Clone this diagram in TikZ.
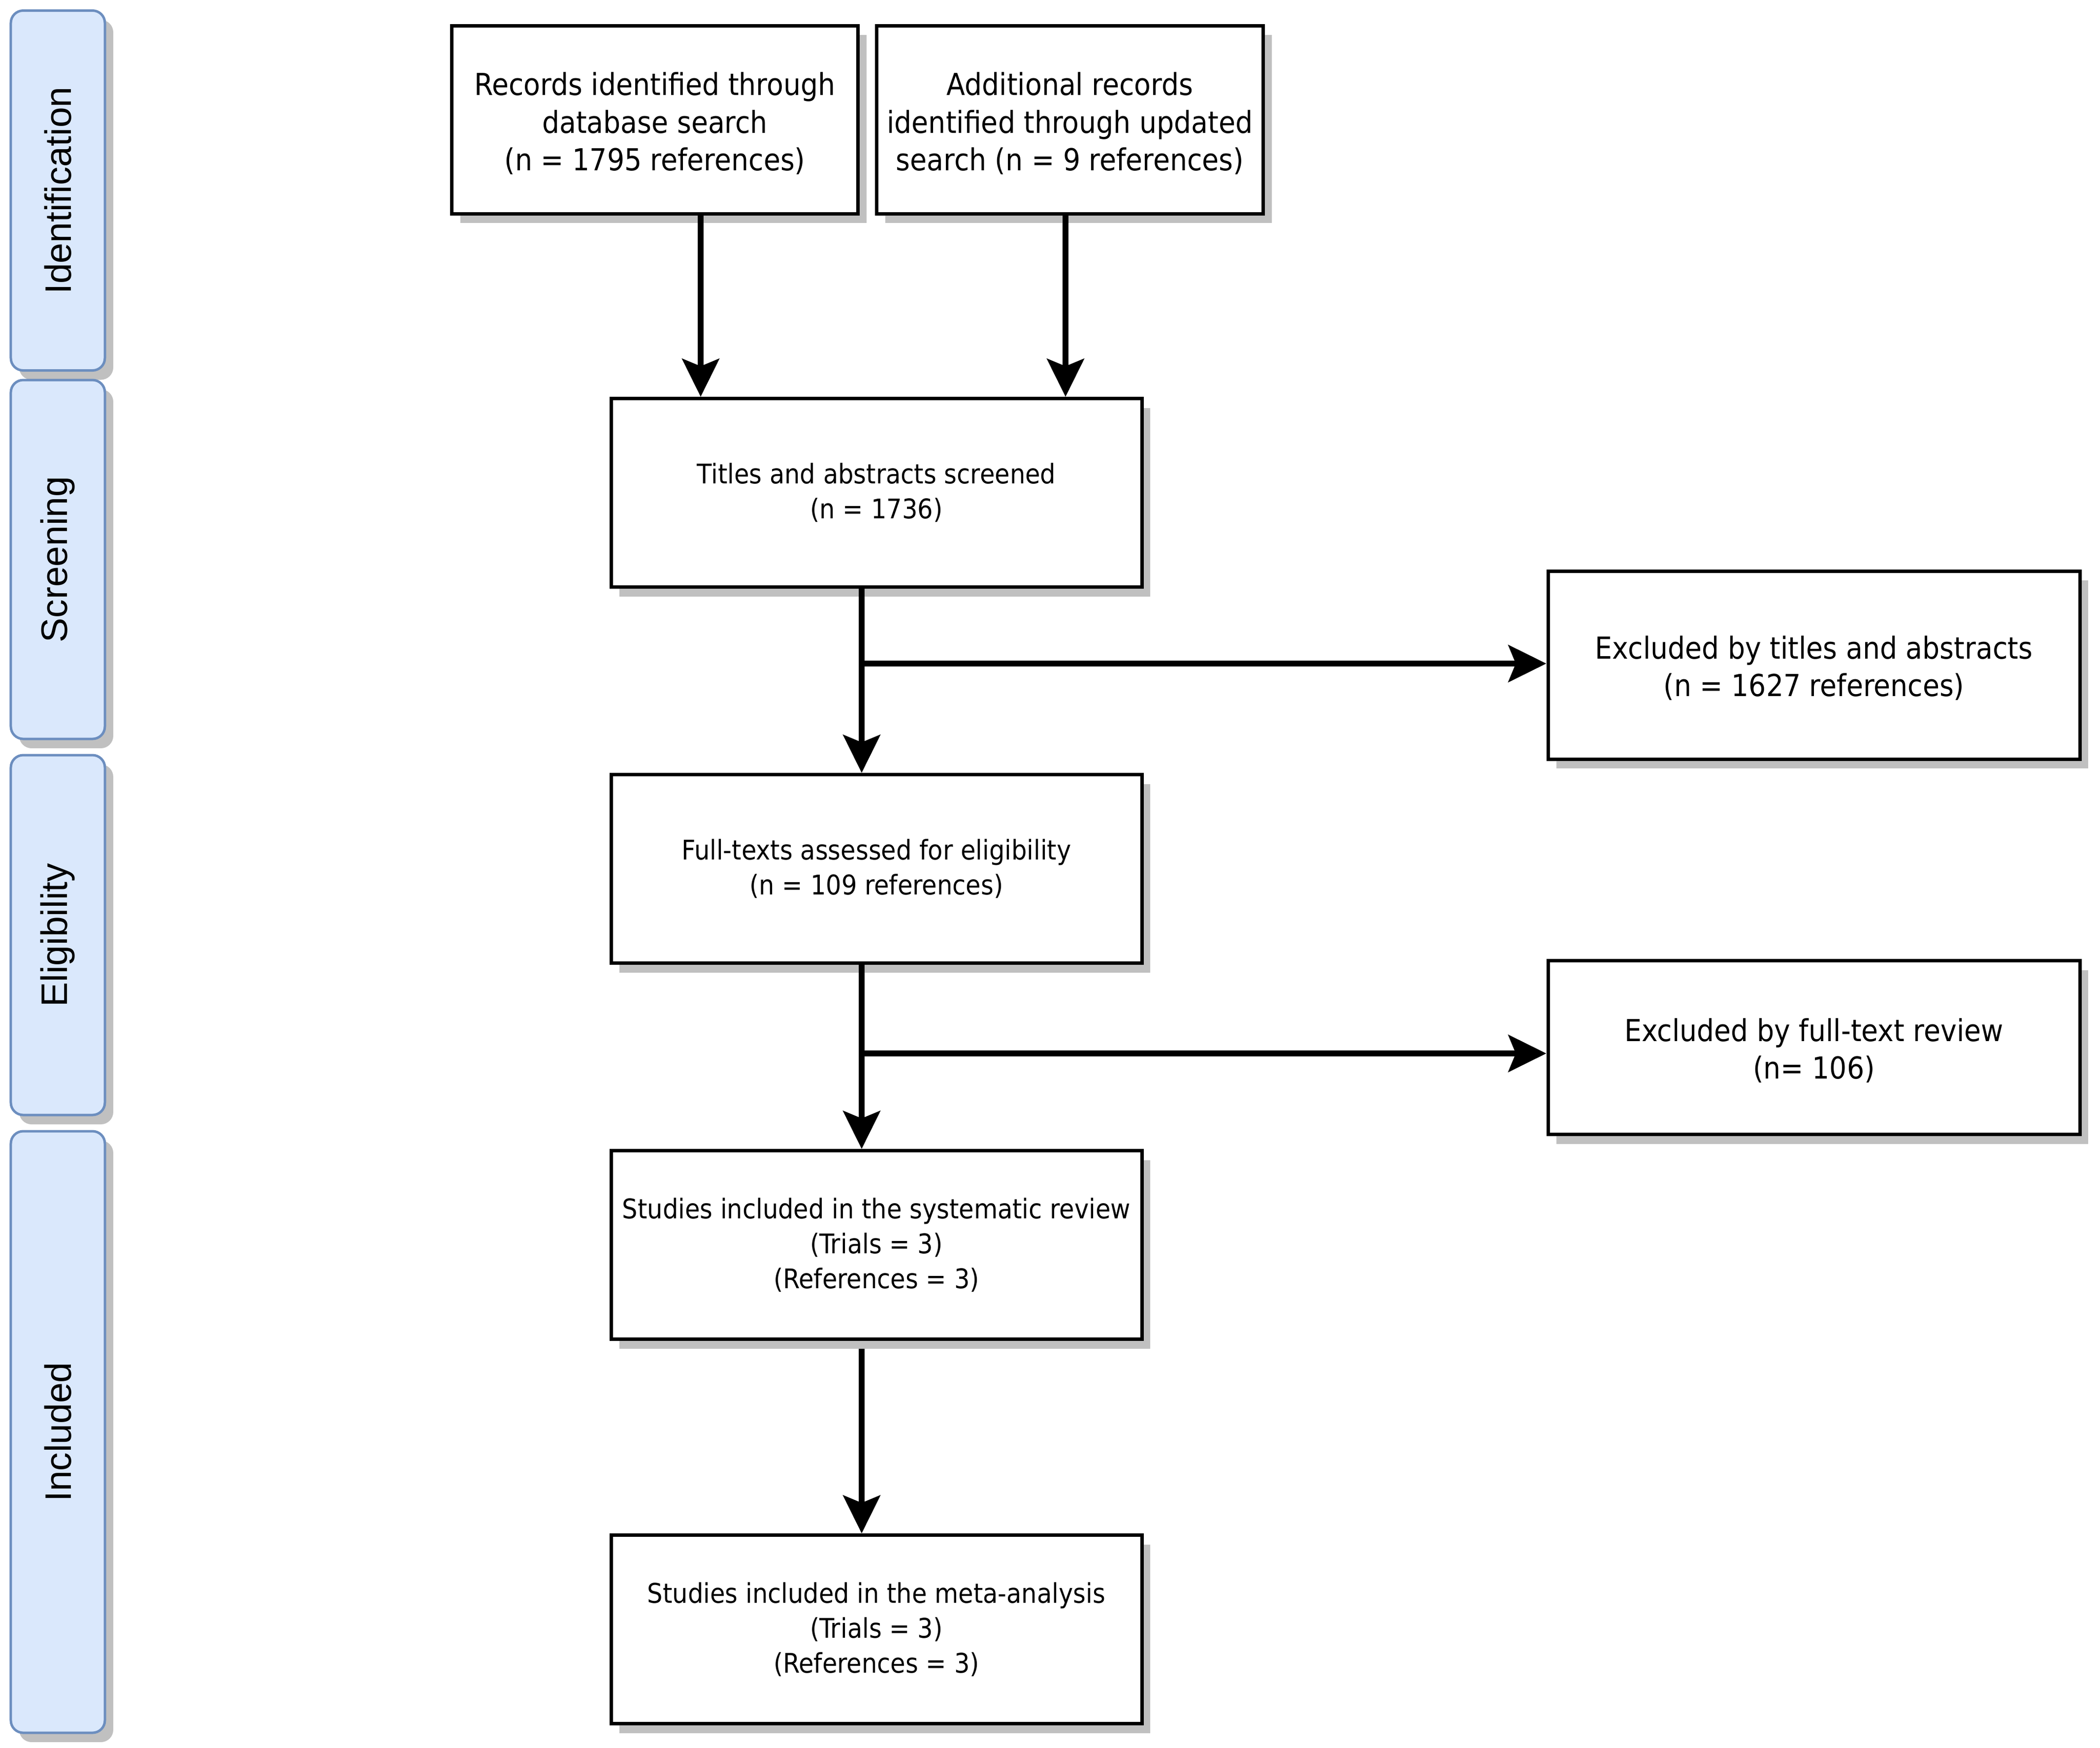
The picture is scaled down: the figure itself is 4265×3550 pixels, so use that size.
\documentclass[tikz,border=0pt]{standalone}
\usepackage{fontspec}
\usetikzlibrary{arrows.meta,shadows,calc}
\newfontfamily\boxfont{DejaVu Sans Condensed}
\newfontfamily\phasefont{Liberation Sans}
\definecolor{phasefill}{HTML}{DAE8FC}
\definecolor{phaseline}{HTML}{6C8EBF}
\definecolor{shadowgray}{HTML}{C0C0C0}
\tikzset{
  shad/.style={drop shadow={shadow xshift=3.4pt, shadow yshift=-3.8pt, fill=shadowgray, opacity=1}},
  box/.style={draw=black, line width=1.4pt, fill=white, align=center, inner sep=0pt, shad},
  bigtext/.style={font=\boxfont\fontsize{12.3pt}{15.3pt}\selectfont, align=center, inner sep=0pt},
  smalltext/.style={font=\boxfont\fontsize{11pt}{14.2pt}\selectfont},
  phase/.style={draw=phaseline, line width=1pt, fill=phasefill, rounded corners=5pt,
    minimum width=38.2pt, inner sep=0pt, shad},
  phasetext/.style={font=\phasefont\fontsize{15pt}{18pt}\selectfont, rotate=90},
  arr/.style={line width=2.4pt, -{Stealth[length=15.4pt, width=15pt, inset=3pt]}},
}
\begin{document}
\begin{tikzpicture}[x=0.2pt, y=-0.2pt]
\useasboundingbox (0,0) rectangle (4265,3550);
\fill[white] (0,0) rectangle (4265,3550);

% phase boxes
\node[phase, minimum height=146.2pt] (pid) at (117.5,387) {};
\node[phasetext] (tid) at (pid.center) {Identification};
\node[phase, minimum height=145.8pt] (pscr) at (117.5,1136.5) {};
\node[phasetext] (tscr) at (pscr.center) {Screening};
\node[phase, minimum height=146.2pt] (pel) at (117.5,1899.5) {};
\node[phasetext] (tel) at (pel.center) {Eligibility};
\node[phase, minimum height=244.4pt] (pinc) at (117.5,2909) {};
\node[phasetext] (tinc) at (pinc.center) {Included};

% main boxes
\node[box, minimum width=165pt, minimum height=76.4pt] (rec) at (1330,243) {};
\node[bigtext] (rect) at ([yshift=-1.6pt]rec.center)
  {Records identified through\\database search\\(n = 1795 references)};
\node[box, minimum width=157pt, minimum height=76.4pt] (add) at (2173,243) {};
\node[bigtext] (addt) at ([yshift=-1.6pt]add.center)
  {Additional records\\identified through updated\\search (n = 9 references)};
\node[box, smalltext, minimum width=215.6pt, minimum height=76.6pt] (tit) at (1780,1001)
  {Titles and abstracts screened\\(n = 1736)};
\node[box, minimum width=216pt, minimum height=76.4pt] (ex1) at (3684,1351) {};
\node[bigtext] (ex1t) at ([yshift=-1.2pt]ex1.center)
  {Excluded by titles and abstracts\\(n = 1627 references)};
\node[box, smalltext, minimum width=215.6pt, minimum height=76.6pt] (full) at (1780,1765)
  {Full-texts assessed for eligibility\\(n = 109 references)};
\node[box, minimum width=216pt, minimum height=70.6pt] (ex2) at (3684,2128) {};
\node[bigtext] (ex2t) at ([yshift=-1.2pt]ex2.center)
  {Excluded by full-text review\\(n= 106)};
\node[box, smalltext, minimum width=215.6pt, minimum height=76.6pt] (sr) at (1780,2529)
  {Studies included in the systematic review\\(Trials = 3)\\(References = 3)};
\node[box, smalltext, minimum width=215.6pt, minimum height=76.6pt] (meta) at (1780,3310)
  {Studies included in the meta-analysis\\(Trials = 3)\\(References = 3)};

% connector x positions
\coordinate (xa) at (1423,0);
\coordinate (xb) at (2164,0);
\coordinate (xc) at (1750,0);

\draw[arr] (rec.south -| xa) -- (tit.north -| xa);
\draw[arr] (add.south -| xb) -- (tit.north -| xb);
\draw[arr] (tit.south -| xc) -- (full.north -| xc);
\draw[arr] ([yshift=0.6pt]ex1.west -| xc) -- ([yshift=0.6pt]ex1.west);
\draw[arr] (full.south -| xc) -- (sr.north -| xc);
\draw[arr] ([yshift=-2.4pt]ex2.west -| xc) -- ([yshift=-2.4pt]ex2.west);
\draw[arr] ([yshift=-3.2pt]sr.south -| xc) -- (meta.north -| xc);
\end{tikzpicture}
\end{document}
